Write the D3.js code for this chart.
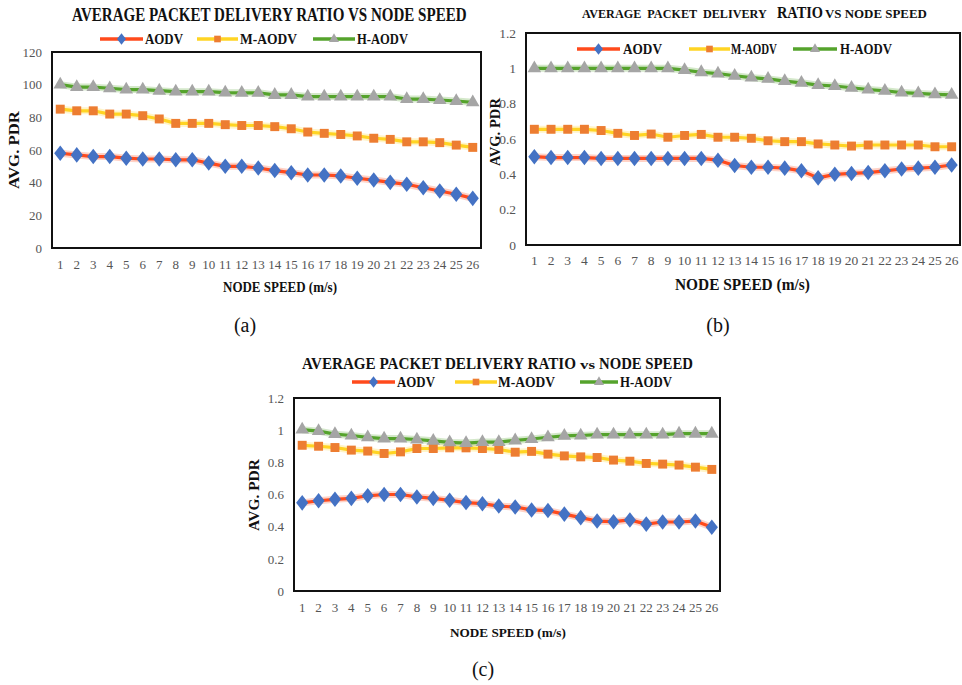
<!DOCTYPE html>
<html>
<head>
<meta charset="utf-8">
<script src="https://cdn.jsdelivr.net/npm/d3@7"></script>
<style>
  body { margin: 0; background: #fff; }
  svg { display: block; }
  text { font-family: "Liberation Serif", "Times New Roman", serif; white-space: pre; }
</style>
</head>
<body>
<svg id="fig" width="962" height="685"></svg>
<script>
// ------------------------------------------------------------------ data
var speeds = [1, 2, 3, 4, 5, 6, 7, 8, 9, 10, 11, 12, 13, 14, 15, 16, 17, 18, 19, 20, 21, 22, 23, 24, 25, 26];
var seriesNames = ["AODV", "M-AODV", "H-AODV"];

// chart (a) - PDR in percent
var aodvA  = [58, 57, 56, 56, 55, 54.5, 54.5, 54, 54, 52, 50, 50, 49, 47.4, 46.1, 44.7, 44.7, 44.1, 42.7, 41.6, 40.2, 39, 36.9, 34.9, 32.9, 30.4];
var mAodvA = [85, 84, 84, 82, 82, 81, 79, 76.3, 76.3, 76.3, 75.5, 75, 75, 74.3, 73, 71, 70.2, 69.5, 68.6, 67.2, 66.5, 65, 65, 64.5, 63, 61.6];
var hAodvA = [100, 98.5, 98.5, 97.8, 97, 97, 96.3, 95.7, 95.7, 95.7, 95.1, 95, 95, 93.7, 93.7, 92.7, 92.7, 92.7, 92.7, 92.7, 92.7, 91.2, 91.2, 90.6, 90, 89.2];
var yTicksA = [0, 20, 40, 60, 80, 100, 120];

// chart (b)
var aodvB  = [0.5, 0.495, 0.495, 0.495, 0.49, 0.49, 0.49, 0.49, 0.49, 0.49, 0.49, 0.48, 0.45, 0.44, 0.44, 0.435, 0.42, 0.38, 0.4, 0.405, 0.41, 0.42, 0.43, 0.435, 0.44, 0.453];
var mAodvB = [0.655, 0.655, 0.655, 0.655, 0.648, 0.632, 0.62, 0.628, 0.61, 0.62, 0.626, 0.61, 0.61, 0.604, 0.59, 0.585, 0.585, 0.572, 0.566, 0.56, 0.566, 0.566, 0.566, 0.566, 0.556, 0.556];
var hAodvB = [1, 1, 1, 1, 1, 1, 1, 1, 1, 0.99, 0.978, 0.97, 0.958, 0.947, 0.94, 0.928, 0.918, 0.905, 0.9, 0.89, 0.88, 0.873, 0.863, 0.858, 0.853, 0.85];
var yTicksB = [0, 0.2, 0.4, 0.6, 0.8, 1, 1.2];

// chart (c)
var aodvC  = [0.548, 0.561, 0.57, 0.576, 0.592, 0.6, 0.6, 0.585, 0.576, 0.564, 0.55, 0.543, 0.528, 0.522, 0.504, 0.5, 0.478, 0.456, 0.435, 0.431, 0.442, 0.416, 0.429, 0.429, 0.435, 0.396];
var mAodvC = [0.906, 0.9, 0.892, 0.876, 0.87, 0.855, 0.865, 0.886, 0.886, 0.89, 0.89, 0.886, 0.88, 0.863, 0.868, 0.851, 0.84, 0.834, 0.83, 0.814, 0.807, 0.793, 0.789, 0.783, 0.77, 0.756];
var hAodvC = [1.003, 0.994, 0.975, 0.967, 0.955, 0.948, 0.948, 0.942, 0.934, 0.924, 0.92, 0.926, 0.926, 0.936, 0.945, 0.956, 0.965, 0.967, 0.972, 0.972, 0.972, 0.972, 0.972, 0.978, 0.978, 0.978];
var yTicksC = [0, 0.2, 0.4, 0.6, 0.8, 1, 1.2];

// ------------------------------------------------------------------ styles
var lineColours   = ["#FF4A1C", "#FFD423", "#55A32C"];
var markerColours = ["#4472C4", "#ED7D31", "#A5A5A5"];
var markerTypes   = [d3.symbolDiamond, d3.symbolSquare, d3.symbolTriangle];
var markerSizes   = [70, 80, 80];
var markerStretch = [1.35, 1, 1];   // excel diamonds are wider than d3's

var svg = d3.select("#fig");

// squeeze/stretch a bold text horizontally so it spans w px, starting at x (rotate optional)
function fitText(parent, str, x, y, w, fs, rot) {
    var t = parent.append("text")
        .attr("font-size", fs)
        .attr("font-weight", "bold")
        .attr("fill", "#111")
        .text(str);
    var natural = t.node().getComputedTextLength();
    var k = w / natural;
    if (rot) {
        t.attr("text-anchor", "middle").attr("dy", "0.35em")
         .attr("transform", "translate(" + x + "," + y + ") rotate(-90) scale(" + k + ",1)");
    } else {
        t.attr("transform", "translate(" + x + "," + y + ") scale(" + k + ",1)");
    }
    return t;
}

function drawChart(cfg) {
    var g = svg.append("g");

    var x = d3.scaleBand()
        .domain(cfg.cats)
        .range([cfg.left, cfg.right]);

    var y = d3.scaleLinear()
        .domain([0, cfg.yMax])
        .range([cfg.bottom, cfg.top]);

    // y tick labels
    g.append("g")
        .attr("transform", "translate(" + cfg.left + ",0)")
        .call(d3.axisLeft(y).tickValues(cfg.yTicks).tickSize(0).tickPadding(10).tickFormat(function(d){ return String(d); }))
        .call(function(a){ a.select(".domain").remove(); })
        .selectAll("text")
        .attr("font-family", "Liberation Serif, serif")
        .attr("font-size", cfg.tickFs)
        .attr("fill", "#555");

    // x tick labels
    g.append("g")
        .attr("transform", "translate(0," + cfg.bottom + ")")
        .call(d3.axisBottom(x).tickSize(0).tickPadding(cfg.xPad))
        .call(function(a){ a.select(".domain").remove(); })
        .selectAll("text")
        .attr("font-family", "Liberation Serif, serif")
        .attr("font-size", cfg.tickFs)
        .attr("fill", "#555");

    // plot frame
    g.append("rect")
        .attr("x", cfg.left).attr("y", cfg.top)
        .attr("width", cfg.right - cfg.left)
        .attr("height", cfg.bottom - cfg.top)
        .attr("fill", "none")
        .attr("stroke", "#111")
        .attr("stroke-width", 2);

    var line = d3.line()
        .x(function(d, i){ return x(cfg.cats[i]) + x.bandwidth() / 2; })
        .y(function(d){ return y(d); });

    cfg.series.forEach(function(vals, k){
        // soft halo like the Excel glow
        g.append("path")
            .datum(vals)
            .attr("fill", "none")
            .attr("stroke", lineColours[k])
            .attr("stroke-opacity", 0.25)
            .attr("stroke-width", 7)
            .attr("stroke-linejoin", "round")
            .attr("d", line);
        g.append("path")
            .datum(vals)
            .attr("fill", "none")
            .attr("stroke", lineColours[k])
            .attr("stroke-width", 3.2)
            .attr("stroke-linejoin", "round")
            .attr("stroke-linecap", "round")
            .attr("d", line);
        g.selectAll(null)
            .data(vals)
            .enter().append("path")
            .attr("d", d3.symbol().type(markerTypes[k]).size(markerSizes[k]))
            .attr("transform", function(d, i){
                return "translate(" + (x(cfg.cats[i]) + x.bandwidth() / 2) + "," + y(d) + ") scale(" + markerStretch[k] + ",1)";
            })
            .attr("fill", markerColours[k]);
    });

    // legend
    cfg.legend.forEach(function(it, k){
        g.append("line")
            .attr("x1", it.x0).attr("x2", it.x1)
            .attr("y1", cfg.legendY).attr("y2", cfg.legendY)
            .attr("stroke", lineColours[k])
            .attr("stroke-width", 3.5);
        g.append("path")
            .attr("d", d3.symbol().type(markerTypes[k]).size(markerSizes[k] * 0.55))
            .attr("transform", "translate(" + ((it.x0 + it.x1) / 2) + "," + cfg.legendY + ") scale(" + markerStretch[k] + ",1)")
            .attr("fill", markerColours[k]);
        fitText(g, seriesNames[k], it.tx, cfg.legendY + 4.5, it.tw, cfg.legendFs);
    });

    // title pieces
    cfg.title.forEach(function(t){
        fitText(g, t.text, t.x, t.y, t.w, t.fs);
    });

    // axis titles
    fitText(g, "AVG. PDR", cfg.yLab.x, cfg.yLab.cy, cfg.yLab.w, cfg.yLab.fs, true);
    fitText(g, "NODE SPEED (m/s)", cfg.xLab.x, cfg.xLab.y, cfg.xLab.w, cfg.xLab.fs);

    // caption
    g.append("text")
        .attr("x", cfg.cap.x).attr("y", cfg.cap.y)
        .attr("text-anchor", "middle")
        .attr("font-size", 20)
        .attr("fill", "#111")
        .text(cfg.cap.text);
}

drawChart({
    cats: speeds, series: [aodvA, mAodvA, hAodvA], yTicks: yTicksA, yMax: 120,
    left: 52, right: 481, top: 52, bottom: 248,
    tickFs: 13, xPad: 12,
    legendY: 39, legendFs: 14.5,
    legend: [{x0: 100, x1: 143, tx: 145, tw: 38}, {x0: 197, x1: 238, tx: 240, tw: 57}, {x0: 313, x1: 355, tx: 357, tw: 51}],
    title: [{text: "AVERAGE PACKET DELIVERY RATIO VS NODE SPEED", x: 72, y: 21, w: 395, fs: 18}],
    yLab: {x: 14, cy: 150, w: 78, fs: 15},
    xLab: {x: 223, y: 292, w: 114, fs: 14},
    cap: {text: "(a)", x: 245, y: 332}
});

drawChart({
    cats: speeds, series: [aodvB, mAodvB, hAodvB], yTicks: yTicksB, yMax: 1.2,
    left: 526, right: 960, top: 33, bottom: 245,
    tickFs: 13.5, xPad: 10,
    legendY: 49, legendFs: 14.5,
    legend: [{x0: 577, x1: 620, tx: 623, tw: 39}, {x0: 689, x1: 730, tx: 731, tw: 46}, {x0: 793, x1: 837, tx: 840, tw: 52}],
    title: [
        {text: "AVERAGE  PACKET  DELIVERY", x: 582, y: 18, w: 185, fs: 11.5},
        {text: "RATIO", x: 777, y: 18, w: 46, fs: 16},
        {text: "VS NODE SPEED", x: 825, y: 18, w: 102, fs: 11.5}
    ],
    yLab: {x: 495, cy: 132, w: 68, fs: 15},
    xLab: {x: 675, y: 290, w: 135, fs: 17},
    cap: {text: "(b)", x: 718, y: 332}
});

drawChart({
    cats: speeds, series: [aodvC, mAodvC, hAodvC], yTicks: yTicksC, yMax: 1.2,
    left: 294, right: 720, top: 398, bottom: 591,
    tickFs: 13, xPad: 12,
    legendY: 382, legendFs: 14.5,
    legend: [{x0: 352, x1: 395, tx: 397, tw: 38}, {x0: 455, x1: 497, tx: 498, tw: 57}, {x0: 580, x1: 618, tx: 620, tw: 52}],
    title: [
        {text: "AVERAGE PACKET DELIVERY RATIO", x: 302, y: 369, w: 274, fs: 16.5},
        {text: "vs", x: 580, y: 369, w: 15, fs: 12},
        {text: "NODE SPEED", x: 599, y: 369, w: 94, fs: 16.5}
    ],
    yLab: {x: 254, cy: 495, w: 72, fs: 15},
    xLab: {x: 450, y: 637, w: 116, fs: 13.5},
    cap: {text: "(c)", x: 483, y: 676}
});
</script>
</body>
</html>
